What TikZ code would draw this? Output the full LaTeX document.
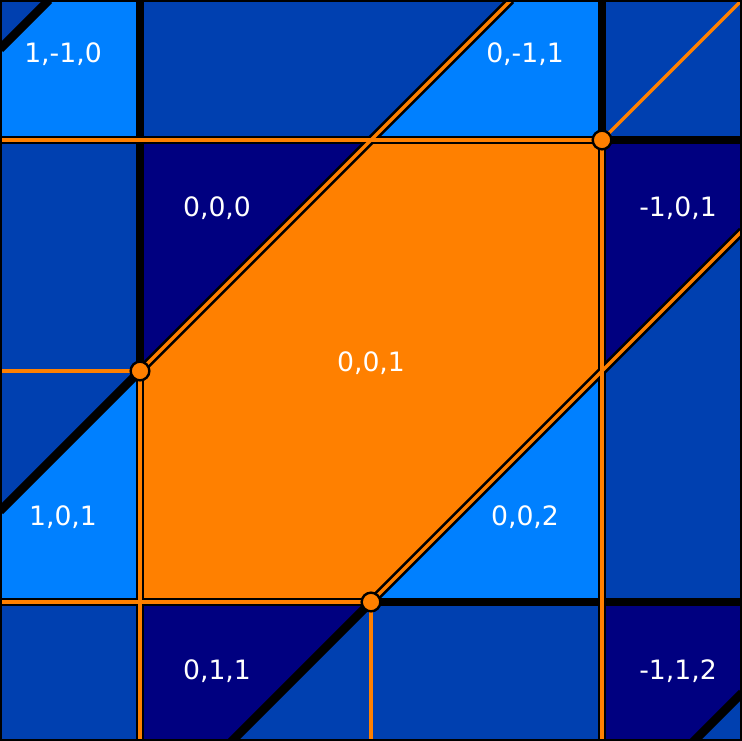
\documentclass[tikz,border=0pt]{standalone}
\usepackage{fontspec}
\setmainfont{DejaVu Sans}
\definecolor{lightb}{RGB}{0,128,255}
\definecolor{midb}{RGB}{0,64,176}
\definecolor{darkb}{RGB}{0,0,128}
\definecolor{orng}{RGB}{255,128,0}
\begin{document}
\begin{tikzpicture}[x=0.75pt,y=-0.75pt,
  blackline/.style={line width=6.4pt,black},
  orangeline/.style={line width=2.6pt,orng},
  lab/.style={text=white,font=\fontsize{20}{24}\selectfont,anchor=base,inner sep=0pt},
  vdot/.style={circle,fill=orng,draw=black,line width=1.8pt,minimum size=14pt,inner sep=0pt}]
\useasboundingbox (0,0) rectangle (742,741);
\clip (0,0) rectangle (742,741);
% background and regions
\fill[midb] (0,0) rectangle (742,741);
\fill[lightb] (0,49) -- (49,0) -- (140,0) -- (140,140) -- (0,140) -- cycle;
\fill[lightb] (511,0) -- (602,0) -- (602,140) -- (371,140) -- cycle;
\fill[darkb] (140,140) -- (371,140) -- (140,371) -- cycle;
\fill[orng] (371,140) -- (602,140) -- (602,371) -- (371,602) -- (140,602) -- (140,371) -- cycle;
\fill[darkb] (602,140) -- (742,140) -- (742,231) -- (602,371) -- cycle;
\fill[lightb] (0,511) -- (140,371) -- (140,602) -- (0,602) -- cycle;
\fill[lightb] (602,371) -- (602,602) -- (371,602) -- cycle;
\fill[darkb] (140,602) -- (371,602) -- (231,742) -- (140,742) -- cycle;
\fill[darkb] (602,602) -- (742,602) -- (742,693) -- (693,742) -- (602,742) -- cycle;
% border coordinates
\coordinate (xa0) at (140,0);   \coordinate (xa1) at (140,742);
\coordinate (xb0) at (602,0);   \coordinate (xb1) at (602,742);
\coordinate (ya0) at (0,140);   \coordinate (ya1) at (742,140);
\coordinate (yb0) at (0,602);   \coordinate (yb1) at (742,602);
\coordinate (da0) at (0,511);   \coordinate (da1) at (511,0);
\coordinate (db0) at (231,742); \coordinate (db1) at (742,231);
\coordinate (dc0) at (0,49);    \coordinate (dc1) at (49,0);
\coordinate (dd0) at (693,742); \coordinate (dd1) at (742,693);
\coordinate (ym0) at (0,371);
\coordinate (xm1) at (371,742);
\coordinate (tr) at (742,0);
% black region borders
\draw[blackline] (xa0) -- (xa1);
\draw[blackline] (xb0) -- (xb1);
\draw[blackline] (ya0) -- (ya1);
\draw[blackline] (yb0) -- (yb1);
\draw[blackline] (da0) -- (da1);
\draw[blackline] (db0) -- (db1);
\draw[blackline] (dc0) -- (dc1);
\draw[blackline] (dd0) -- (dd1);
% vertices
\coordinate (p1) at (602,140);
\coordinate (p2) at (140,371);
\coordinate (p3) at (371,602);
% orange curve
\draw[orangeline] (p1) -- (ya0);
\draw[orangeline] (p1) -- (xb1);
\draw[orangeline] (p1) -- (tr);
\draw[orangeline] (p2) -- (ym0);
\draw[orangeline] (p2) -- (xa1);
\draw[orangeline] (p2) -- (da1);
\draw[orangeline] (p3) -- (yb0);
\draw[orangeline] (p3) -- (xm1);
\draw[orangeline] (p3) -- (db1);
\node[vdot] (v1) at (p1) {};
\node[vdot] (v2) at (p2) {};
\node[vdot] (v3) at (p3) {};
% labels
\node[lab] (l1) at (63,63) {1,-1,0};
\node[lab] (l2) at (525,63) {0,-1,1};
\node[lab] (l3) at (217,217) {0,0,0};
\node[lab] (l4) at (678,217) {-1,0,1};
\node[lab] (l5) at (371,371) {0,0,1};
\node[lab] (l6) at (63,525) {1,0,1};
\node[lab] (l7) at (525,525) {0,0,2};
\node[lab] (l8) at (217,679) {0,1,1};
\node[lab] (l9) at (678,679) {-1,1,2};
% frame
\draw[black,line width=3pt] (0,0) rectangle (742,741);
\end{tikzpicture}
\end{document}
